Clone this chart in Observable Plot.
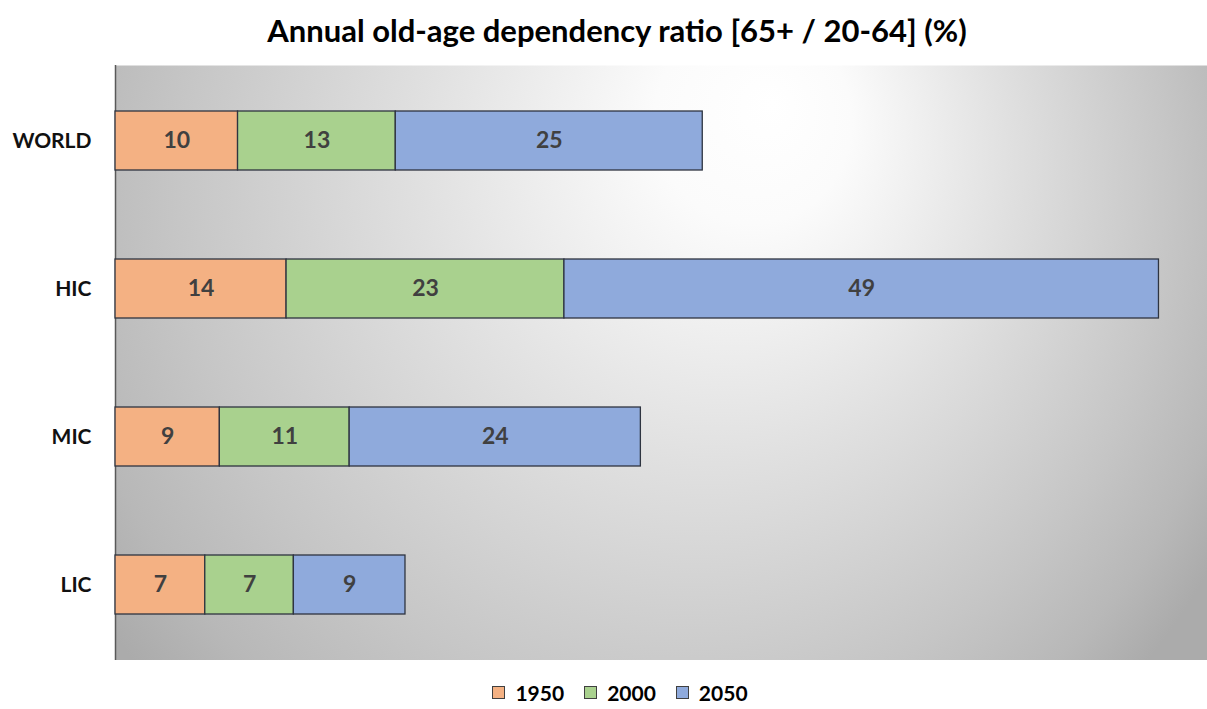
<!DOCTYPE html>
<html>
<head>
<meta charset="utf-8">
<script src="https://cdn.jsdelivr.net/npm/d3@7"></script>
<script src="https://cdn.jsdelivr.net/npm/@observablehq/plot@0.6"></script>
<style>
  html, body { margin: 0; padding: 0; background: #fff; }
  body { width: 1207px; height: 709px; overflow: hidden; font-family: Lato, "Open Sans", sans-serif; }
  #title { height: 65px; box-sizing: border-box; padding-top: 10px; padding-left: 27px; text-align: center;
    font-weight: bold; font-size: 31px; color: #000; line-height: 40px; white-space: nowrap; }
  #legend { height: 49px; display: flex; justify-content: center; align-items: center; padding-left: 33px; box-sizing: border-box; padding-top: 16px;
    font-weight: bold; font-size: 21px; color: #000; }
  .item { display: flex; align-items: center; margin: 0 10px; }
  .sw { width: 11px; height: 11px; border: 1px solid #404040; margin-right: 10px; }
  svg g[aria-label="y-axis tick label"] text { font-weight: bold; }
</style>
</head>
<body>
<div id="title">Annual old-age dependency ratio [65+ / 20-64] (%)</div>
<div id="chart"></div>
<div id="legend"></div>
<script>
const categories = ["WORLD", "HIC", "MIC", "LIC"];
const years = ["1950", "2000", "2050"];
const v1950 = [10.1, 14.1, 8.6, 7.4];
const v2000 = [13.0, 22.9, 10.7, 7.3];
const v2050 = [25.3, 49.0, 24.0, 9.2];
const colors = ["#f4b183", "#a9d18e", "#8faadc"];

const series = [v1950, v2000, v2050];
const data = [];
categories.forEach((c, i) => {
  years.forEach((y, j) => data.push({cat: c, year: y, value: series[j][i]}));
});

const chart = Plot.plot({
  width: 1207,
  height: 595,
  marginLeft: 115,
  marginRight: 0,
  marginTop: 0,
  marginBottom: 0,
  style: {background: "transparent", fontFamily: "Lato, 'Open Sans', sans-serif"},
  x: {domain: [0, 90], axis: null},
  y: {domain: categories, paddingInner: 0.6, paddingOuter: 0.3, label: null, axis: null},
  color: {domain: years, range: colors},
  marks: [
    Plot.frame({fill: "url(#bggrad)", stroke: "none"}),
    Plot.ruleX([0], {stroke: "#595959", strokeWidth: 1.5}),
    Plot.barX(data, Plot.stackX({x: "value", y: "cat", fill: "year", stroke: "#2e3440", strokeWidth: 1.3})),
    Plot.text(data, Plot.stackX({x: "value", y: "cat", z: "year", text: d => d3.format(".0f")(d.value),
      fill: "#404040", fontSize: 23, fontWeight: "bold"})),
    Plot.axisY({tickSize: 0, tickPadding: 24, fontSize: 21, fill: "#111", label: null})
  ]
});

const ns = "http://www.w3.org/2000/svg";
const defs = document.createElementNS(ns, "defs");
const g = document.createElementNS(ns, "radialGradient");
g.setAttribute("id", "bggrad");
g.setAttribute("gradientUnits", "userSpaceOnUse");
g.setAttribute("cx", "0"); g.setAttribute("cy", "0"); g.setAttribute("r", "1");
g.setAttribute("fx", "0.2"); g.setAttribute("fy", "-0.18");
g.setAttribute("gradientTransform", "translate(640,160) scale(660,680)");
[[0, "#ffffff"], [0.15, "#fbfbfb"], [0.45, "#e0e0e0"], [0.75, "#c6c6c6"], [0.9, "#b8b8b8"], [1, "#ababab"]].forEach(([o, c]) => {
  const s = document.createElementNS(ns, "stop");
  s.setAttribute("offset", o); s.setAttribute("stop-color", c);
  g.appendChild(s);
});
defs.appendChild(g);
chart.insertBefore(defs, chart.firstChild);
document.getElementById("chart").appendChild(chart);

const legend = document.getElementById("legend");
years.forEach((y, i) => {
  const item = document.createElement("div");
  item.className = "item";
  const sw = document.createElement("span");
  sw.className = "sw";
  sw.style.background = colors[i];
  item.appendChild(sw);
  item.appendChild(document.createTextNode(y));
  legend.appendChild(item);
});
</script>
</body>
</html>
